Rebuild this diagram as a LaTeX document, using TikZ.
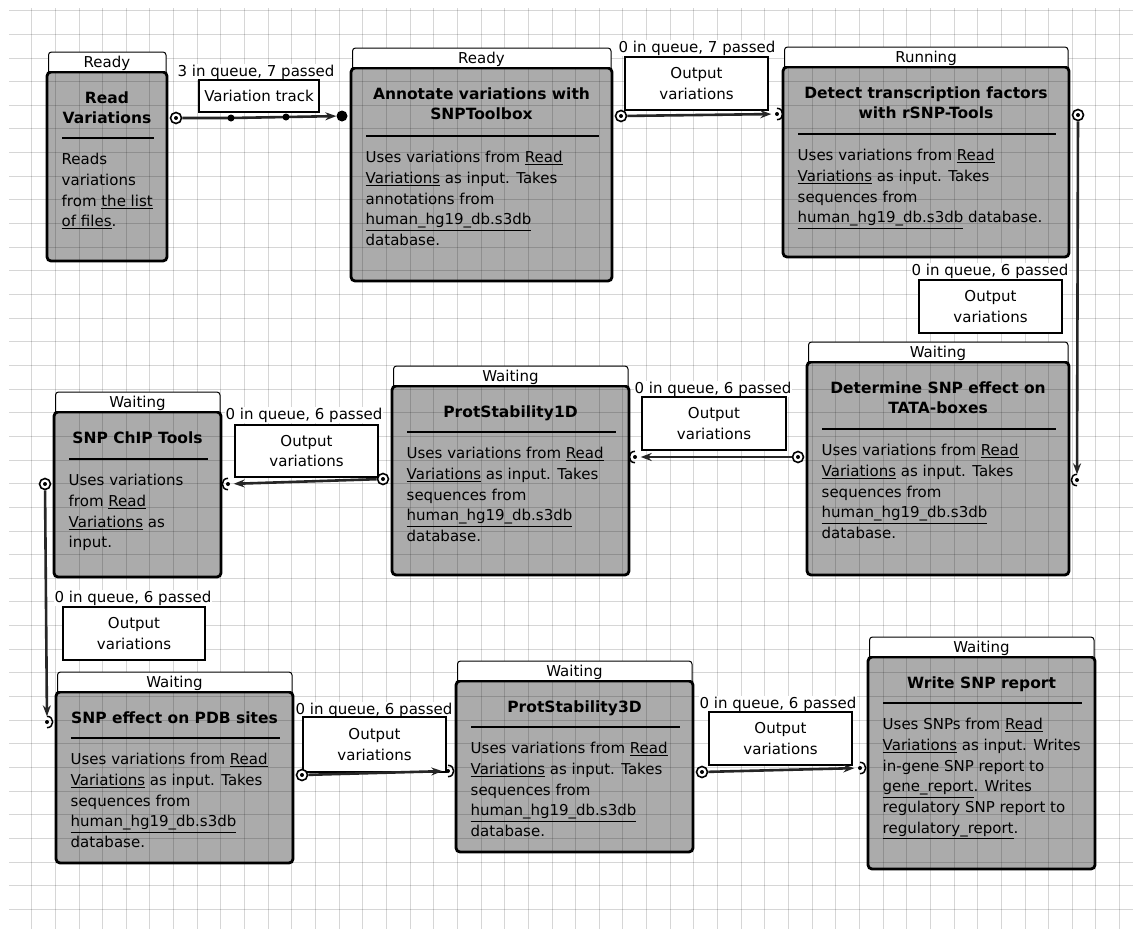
\documentclass[tikz,border=0pt]{standalone}
\usepackage{fontspec}
\setmainfont{DejaVu Sans}
\usetikzlibrary{arrows.meta}
\pgfdeclarelayer{gridlayer}
\pgfdeclarelayer{front}
\pgfsetlayers{main,gridlayer,front}
\definecolor{boxgray}{RGB}{171,171,171}
\tikzset{
  procbox/.style={draw=black, line width=2.8pt, fill=boxgray, rounded corners=4pt, inner sep=0pt, outer sep=0pt},
  titletxt/.style={font=\fontsize{15.5}{20.7}\selectfont\bfseries, align=center, inner sep=0pt},
  bodytxt/.style={font=\fontsize{15}{20.7}\selectfont, align=left, inner sep=0pt},
  sepline/.style={black, line width=1.1pt},
  tabline/.style={draw=black, line width=1pt, rounded corners=3pt},
  statustxt/.style={font=\fontsize{15}{18}\selectfont, inner sep=0pt},
  gridline/.style={black, opacity=0.16, line width=1pt},
  qlabel/.style={font=\fontsize{15}{18}\selectfont, fill=white, inner sep=0.5pt, anchor=base},
  lbox/.style={draw=black, line width=1.3pt, fill=white, align=center, inner sep=0pt,
               font=\fontsize{15}{20.7}\selectfont},
  outport/.style={circle, draw=black, fill=white, line width=1.6pt, minimum size=11pt, inner sep=0pt,
                  path picture={\fill[black] (path picture bounding box.center) circle (2pt);}},
  inport/.style={circle, minimum size=11pt, inner sep=0pt,
                 path picture={\fill[black] (path picture bounding box.center) circle (2pt);}},
  inportsel/.style={circle, fill=black, minimum size=11pt, inner sep=0pt},
  portarc/.style={draw=black, line width=1.5pt},
  conn/.style={draw=black!85, line width=2.6pt, -{Stealth[length=11pt, width=8pt]}},
}
% #1 name #2 x1 #3 x2 #4 top #5 bottom #6 separator y #7 status #8 title #9 body
\newcommand\procbox[9]{%
  \node[procbox, minimum width={(#3-#2)*1pt}, minimum height={(#5-#4)*1pt}] (#1) at ({(#2+#3)/2},{(#4+#5)/2}) {};
  \node[titletxt, anchor=north] (#1-t) at ({(#2+#3)/2},{#4+16.5}) {\strut #8};
  \draw[sepline] ({#2+15},#6) -- ({#3-13},#6);
  \node[bodytxt, anchor=north west] (#1-b) at ({#2+14.5},{#6+12}) {\strut #9};
  \begin{pgfonlayer}{front}
    \fill[white] ({#2+1.5},{#4-1.4}) rectangle ({#3-1},{#4-15});
    \fill[white, rounded corners=3pt] ({#2+1.5},{#4-10}) -- ({#2+1.5},{#4-20}) -- ({#3-1},{#4-20}) -- ({#3-1},{#4-10}) -- cycle;
    \draw[tabline] ({#2+1.5},{#4}) -- ({#2+1.5},{#4-20}) -- ({#3-1},{#4-20}) -- ({#3-1},{#4});
    \node[statustxt, anchor=base] (#1-s) at ({(#2+#3)/2},{#4-4.5}) {#7};
  \end{pgfonlayer}
}
\newcommand\hgbody{Uses variations from \underline{Read}\\\underline{Variations} as input. Takes\\sequences from\\\underline{human\_hg19\_db.s3db}\\database.}
\begin{document}
\begin{tikzpicture}[x=1pt, y=-1pt]
\useasboundingbox (0,0) rectangle (1133,929);
\fill[white] (0,0) rectangle (1133,929);

% process boxes
\procbox{b1}{47}{167}{72}{261}{138}{Ready}{Read\\Variations}{Reads\\variations\\from \underline{the list}\\\underline{of files}.}
\procbox{b2}{351}{612}{68}{281}{136}{Ready}{Annotate variations with\\SNPToolbox}{Uses variations from \underline{Read}\\\underline{Variations} as input. Takes\\annotations from\\\underline{human\_hg19\_db.s3db}\\database.}
\procbox{b3}{783}{1069}{67}{257}{134}{Running}{Detect transcription factors\\with rSNP-Tools}{Uses variations from \underline{Read}\\\underline{Variations} as input. Takes\\sequences from\\\underline{human\_hg19\_db.s3db} database.}
\procbox{b4}{807}{1069}{362}{575}{429}{Waiting}{Determine SNP effect on\\TATA-boxes}{\hgbody}
\procbox{b5}{392}{629}{386}{575}{432}{Waiting}{ProtStability1D}{\hgbody}
\procbox{b6}{54}{221}{412}{577}{459}{Waiting}{SNP ChIP Tools}{Uses variations\\from \underline{Read}\\\underline{Variations} as\\input.}
\procbox{b7}{56}{293}{692}{863}{738}{Waiting}{SNP effect on PDB sites}{\hgbody}
\procbox{b8}{456}{693}{681}{852}{727}{Waiting}{ProtStability3D}{\hgbody}
\procbox{b9}{868}{1095}{657}{869}{703}{Waiting}{Write SNP report}{Uses SNPs from \underline{Read}\\\underline{Variations} as input. Writes\\in-gene SNP report to\\\underline{gene\_report}. Writes\\regulatory SNP report to\\\underline{regulatory\_report}.}

% grid
\begin{pgfonlayer}{gridlayer}
  \foreach \k in {0,...,38} \draw[gridline] (9,{10.7+23.65*\k}) -- (1133,{10.7+23.65*\k});
  \foreach \k in {0,...,46} \draw[gridline] ({31.7+23.65*\k},8) -- ({31.7+23.65*\k},929);
\end{pgfonlayer}

\begin{pgfonlayer}{front}
  % labels
  \node[qlabel] (q1) at (256,76) {3 in queue, 7 passed};
  \node[lbox, minimum width=120pt, minimum height=32pt] (l1) at (259,96) {Variation track};
  \node[qlabel] (q2) at (697,52) {0 in queue, 7 passed};
  \node[lbox, minimum width=143pt, minimum height=53pt] (l2) at (696.5,83.5) {Output\\variations};
  \node[qlabel] (q3) at (990,275) {0 in queue, 6 passed};
  \node[lbox, minimum width=143pt, minimum height=53pt] (l3) at (990.5,306.5) {Output\\variations};
  \node[qlabel] (q4) at (713,393) {0 in queue, 6 passed};
  \node[lbox, minimum width=144pt, minimum height=53pt] (l4) at (714,423.5) {Output\\variations};
  \node[qlabel] (q5) at (304,419) {0 in queue, 6 passed};
  \node[lbox, minimum width=143pt, minimum height=52pt] (l5) at (306.5,451) {Output\\variations};
  \node[qlabel] (q6) at (133,602) {0 in queue, 6 passed};
  \node[lbox, minimum width=142pt, minimum height=53pt] (l6) at (134,633.5) {Output\\variations};
  \node[qlabel] (q7) at (374,714) {0 in queue, 6 passed};
  \node[lbox, minimum width=143pt, minimum height=55pt] (l7) at (374.5,744.5) {Output\\variations};
  \node[qlabel] (q8) at (778,708) {0 in queue, 6 passed};
  \node[lbox, minimum width=143pt, minimum height=53pt] (l8) at (780.5,738.5) {Output\\variations};

  % ports
  \node[outport] (o1) at (176,118) {};
  \node[inportsel] (i2) at (342,116) {};
  \node[outport] (o2) at (621,116) {};
  \node[inport] (i3) at (777,114) {};
  \node[outport] (o3) at (1078,115) {};
  \node[inport] (i4) at (1077,480) {};
  \node[outport] (o4) at (798,457) {};
  \node[inport] (i5) at (635,457) {};
  \node[outport] (o5) at (383,479) {};
  \node[inport] (i6) at (228,484) {};
  \node[outport] (o6) at (45,484) {};
  \node[inport] (i7) at (47,722) {};
  \node[outport] (o7) at (302,775) {};
  \node[inport] (i8) at (448,771) {};
  \node[outport] (o8) at (702,772) {};
  \node[inport] (i9) at (860,768) {};
  % input arcs (on the box side)
  \foreach \p in {i3,i7,i8,i9} \draw[portarc] (\p.north) to[out=0,in=0,looseness=1.7] (\p.south);
  \foreach \p in {i4,i5,i6} \draw[portarc] (\p.north) to[out=180,in=180,looseness=1.7] (\p.south);

  % connectors
  \coordinate (c1) at (231,118);
  \coordinate (c2) at (286,117);
  \draw[conn] (o1) -- (c1) -- (c2) -- (i2);
  \fill[black] (c1) circle (3.5pt);
  \fill[black] (c2) circle (3.5pt);
  \draw[conn] (o2) -- (i3);
  \draw[conn] (o3) -- (i4);
  \draw[conn] (o4) -- (i5);
  \draw[conn] (o5) -- (i6);
  \draw[conn] (o6) -- (i7);
  \draw[conn] (o7) -- (i8);
  \draw[conn] (o8) -- (i9);
\end{pgfonlayer}
\end{tikzpicture}
\end{document}
